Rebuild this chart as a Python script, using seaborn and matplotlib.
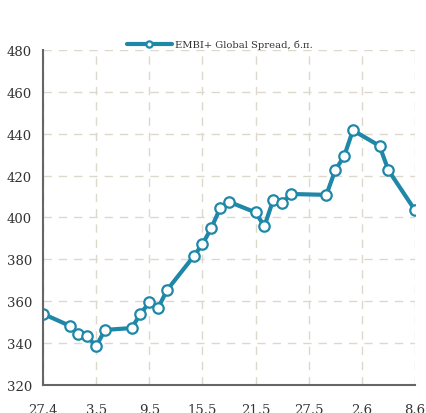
import numpy as np
import pandas as pd
import matplotlib
matplotlib.use("Agg")
import matplotlib.pyplot as plt
import matplotlib.dates as mdates
from matplotlib.ticker import FuncFormatter, MultipleLocator
import seaborn as sns

# EMBI+ Global spread, basis points
dates = [
    "2018-04-27", "2018-04-30", "2018-05-01", "2018-05-02", "2018-05-03",
    "2018-05-04", "2018-05-07", "2018-05-08", "2018-05-09", "2018-05-10",
    "2018-05-11", "2018-05-14", "2018-05-15", "2018-05-16", "2018-05-17",
    "2018-05-18", "2018-05-21", "2018-05-22", "2018-05-23", "2018-05-24",
    "2018-05-25", "2018-05-29", "2018-05-30", "2018-05-31", "2018-06-01",
    "2018-06-04", "2018-06-05", "2018-06-08",
]
spread = [
    354.0, 348.3, 344.3, 343.2, 338.5,
    346.3, 347.2, 353.9, 359.5, 356.8,
    365.3, 381.4, 387.2, 394.9, 404.4,
    407.5, 402.4, 395.8, 408.4, 407.1,
    411.2, 410.8, 422.6, 429.2, 441.6,
    434.2, 422.6, 403.5,
]
tick_dates = ["2018-04-27", "2018-05-03", "2018-05-09", "2018-05-15",
              "2018-05-21", "2018-05-27", "2018-06-02", "2018-06-08"]
series_label = "EMBI+ Global Spread, б.п."

df = pd.DataFrame({"date": pd.to_datetime(dates), "spread": spread})

sns.set_style("white")
plt.rcParams["font.family"] = ["DejaVu Serif"]

line_color = "#1f87a8"
text_color = "#333333"
grid_color = "#dcd9cc"
spine_color = "#666666"

fig = plt.figure(figsize=(4.26, 4.14), dpi=100)
ax = fig.add_axes([0.101, 0.0676, 0.873, 0.8094])

sns.lineplot(data=df, x="date", y="spread", ax=ax, color=line_color,
             linewidth=3, marker="o", markersize=7.5, markerfacecolor="white",
             markeredgecolor=line_color, markeredgewidth=1.6,
             label=series_label, legend=False)

ax.set_ylim(320, 480)
ax.set_xlim(pd.Timestamp(tick_dates[0]), pd.Timestamp(tick_dates[-1]))
ax.yaxis.set_major_locator(MultipleLocator(20))
ax.set_xticks(pd.to_datetime(tick_dates))
ax.xaxis.set_major_formatter(FuncFormatter(
    lambda v, pos: f"{mdates.num2date(v).day}.{mdates.num2date(v).month}"))
ax.set_xlabel("")
ax.set_ylabel("")

ax.grid(True, color=grid_color, linestyle=(0, (6, 5)), linewidth=1)
ax.set_axisbelow(True)
# no grid line along the top edge (480)
ax.get_ygridlines()[-1].set_visible(False)

for side in ["top", "right"]:
    ax.spines[side].set_visible(False)
for side in ["left", "bottom"]:
    ax.spines[side].set_color(spine_color)
    ax.spines[side].set_linewidth(1.5)

ax.tick_params(axis="both", direction="out", length=4, width=1,
               color=spine_color, labelcolor=text_color, labelsize=9.5)
ax.tick_params(axis="x", pad=9)
ax.tick_params(axis="y", pad=4)

handles, labels = ax.get_legend_handles_labels()
fig.legend(handles, labels, loc="center", bbox_to_anchor=(0.516, 0.89),
           frameon=False, fontsize=7.2, handlelength=4.5, handletextpad=0.3,
           markerscale=0.6, labelcolor=text_color)

fig.savefig("out.png", dpi=100)
